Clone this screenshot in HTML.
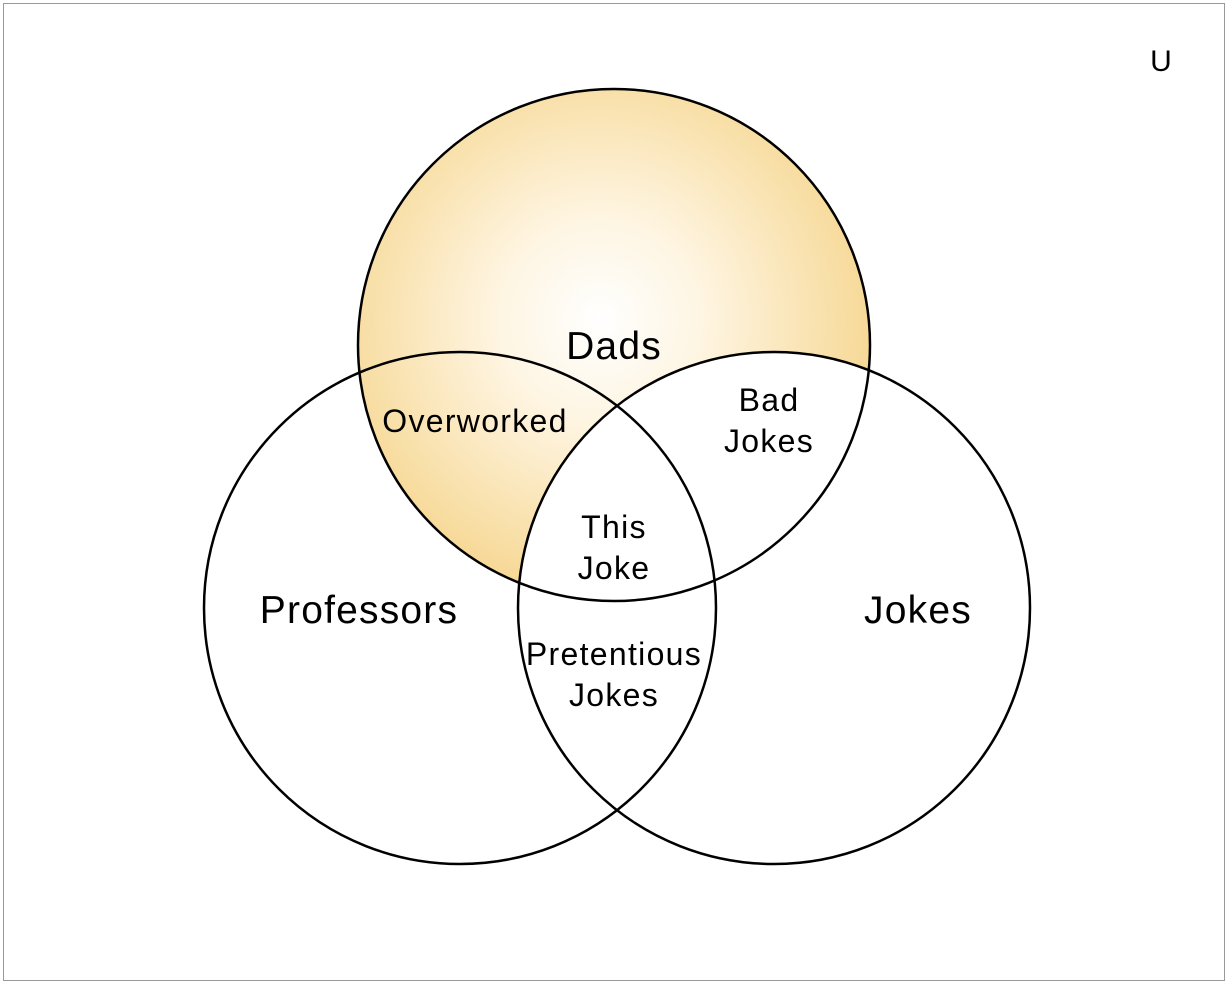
<!DOCTYPE html>
<html><head><style>
html,body{margin:0;padding:0;background:#fff;}
svg{display:block;}
text{font-family:"Liberation Sans",sans-serif;fill:#000;text-anchor:middle;}
</style></head><body>
<svg width="1228" height="984" viewBox="0 0 1228 984">
<defs>
<radialGradient id="g" cx="600" cy="320" r="290" gradientUnits="userSpaceOnUse">
<stop offset="0" stop-color="#ffffff"/>
<stop offset="0.35" stop-color="#fef5e2"/>
<stop offset="1" stop-color="#f6d68f"/>
</radialGradient>
</defs>
<rect x="3.5" y="3.5" width="1221" height="977" fill="#fff" stroke="#999" stroke-width="1"/>
<circle cx="614" cy="345" r="256" fill="url(#g)"/>
<circle cx="774" cy="608" r="256" fill="#fff"/>
<g fill="none" stroke="#000" stroke-width="2.5">
<circle cx="614" cy="345" r="256"/>
<circle cx="460" cy="608" r="256"/>
<circle cx="774" cy="608" r="256"/>
</g>
<text x="1161" y="71" font-size="30">U</text>
<g font-size="39" letter-spacing="1.2">
<text x="614" y="359">Dads</text>
<text x="359" y="623">Professors</text>
<text x="918" y="623">Jokes</text>
</g>
<g font-size="32" letter-spacing="1.3">
<text x="475" y="432">Overworked</text>
<text x="769" y="411">Bad</text>
<text x="769" y="452">Jokes</text>
<text x="614" y="538">This</text>
<text x="614" y="579">Joke</text>
<text x="614" y="665">Pretentious</text>
<text x="614" y="706">Jokes</text>
</g>
</svg>
</body></html>
